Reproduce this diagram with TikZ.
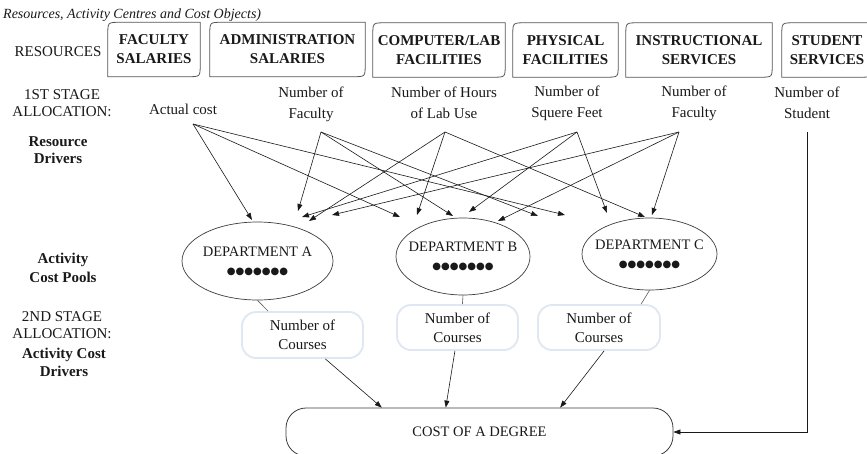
\documentclass[tikz,border=0pt]{standalone}
\usepackage{fontspec}
\setmainfont{Liberation Serif}
\newfontfamily\dejavu{DejaVu Sans}
\usetikzlibrary{arrows.meta,shapes.geometric,calc}
\definecolor{boxedge}{RGB}{85,85,85}
\definecolor{crsedge}{RGB}{222,231,242}
\definecolor{ink}{RGB}{25,25,25}
\newcommand\resframe[1]{\draw[resline] (#1.south west) -- ([yshift=-12pt]#1.north west) .. controls (#1.north west) .. ([xshift=12pt]#1.north west) -- (#1.north east) -- ([yshift=12pt]#1.south east) .. controls (#1.south east) .. ([xshift=-12pt]#1.south east) -- cycle;}
\newcommand\dotrow{{\dejavu\fontsize{10}{10}\selectfont ●●●●●●●}}
\begin{document}
\begin{tikzpicture}[x=1pt,y=-1pt,
  txt/.style={font=\fontsize{15}{21}\selectfont, align=center, inner sep=0pt, text=ink},
  side/.style={font=\fontsize{15}{17}\selectfont, align=center, inner sep=0pt, text=ink},
  bside/.style={font=\bfseries\fontsize{15}{17}\selectfont, align=center, inner sep=0pt, text=ink},
  res/.style={inner sep=0pt, minimum height=54pt, align=center, text=ink, font=\bfseries\fontsize{15}{19}\selectfont},
  resline/.style={draw=boxedge, line width=0.8pt},
  dept/.style={ellipse, draw=ink!85, line width=0.7pt, inner xsep=-25pt, inner ysep=-5pt, align=center, text=ink, font=\fontsize{14.5}{18}\selectfont},
  crs/.style={rectangle, rounded corners=14pt, draw=crsedge, line width=1.8pt, fill=white, inner sep=0pt, align=center, minimum width=121pt, text=ink, font=\fontsize{15}{19}\selectfont},
  costbox/.style={rectangle, rounded corners=20pt, draw=ink!85, line width=0.8pt, minimum width=387pt, minimum height=48pt, text=ink, font=\fontsize{14.5}{18}\selectfont},
  arr/.style={draw=ink, line width=0.6pt, -{Triangle[length=7pt,width=5pt]}},
  link/.style={draw=ink!70, line width=0.6pt}]
\useasboundingbox (0,0) rectangle (867,453);

% title
\node[anchor=west, inner sep=0pt, text=ink, font=\itshape\fontsize{14}{16}\selectfont] (title) at (3,15) {Resources, Activity Centres and Cost Objects)};

% left column
\node[side] (resl) at (58,52) {RESOURCES};
\node[side] (st1) at (62,103.5) {1ST STAGE\\ALLOCATION:};
\node[bside] (rdrv) at (58,150) {Resource\\Drivers};
\node[bside, font=\bfseries\fontsize{15}{19}\selectfont] (acp) at (63,267.5) {Activity\\Cost Pools};
\node[side] (st2) at (62,325) {2ND STAGE\\ALLOCATION:};
\node[bside, font=\bfseries\fontsize{15}{18}\selectfont] (acd) at (64,362) {Activity Cost\\Drivers};

% resources
\node[res, minimum width=92pt] (fac) at (154,49.5) {FACULTY\\SALARIES};
\node[res, minimum width=155pt] (adm) at (287.5,49.5) {ADMINISTRATION\\SALARIES};
\node[res, minimum width=132pt] (comp) at (439,50) {COMPUTER/LAB\\FACILITIES};
\node[res, minimum width=105pt] (phys) at (565.5,50) {PHYSICAL\\FACILITIES};
\node[res, minimum width=146pt] (instr) at (699,50) {INSTRUCTIONAL\\SERVICES};
\node[res, minimum width=90pt] (studs) at (827,50) {STUDENT\\SERVICES};
\foreach \n in {fac,adm,comp,phys,instr,studs} {\resframe{\n}}

% resource drivers
\node[txt] (actual) at (183,109) {Actual cost};
\node[txt] (fac1) at (311,104) {Number of\\Faculty};
\node[txt] (lab) at (444,103) {Number of Hours\\of Lab Use};
\node[txt] (sq) at (567,103) {Number of\\Squere Feet};
\node[txt] (fac2) at (694,103) {Number of\\Faculty};
\node[txt] (stud) at (807,103) {Number of\\Student};

\coordinate (sAct) at (193,124);
\coordinate (sFa1) at (321,132);
\coordinate (sLab) at (445,132);
\coordinate (sSq) at (577,132);
\coordinate (sFa2) at (679,132);
\coordinate (sStu) at (807,132);

% arrow targets
\coordinate (tA1) at (252,220); \coordinate (tA2) at (298,211); \coordinate (tA3) at (309,221);
\coordinate (tA4) at (302,217); \coordinate (tA5) at (332,215);
\coordinate (tB1) at (400,217); \coordinate (tB2) at (453,216); \coordinate (tB3) at (417,215);
\coordinate (tB4) at (469,212); \coordinate (tB5) at (498,221);
\coordinate (tC1) at (565,215); \coordinate (tC2) at (538,216); \coordinate (tC3) at (645,217);
\coordinate (tC4) at (607,213); \coordinate (tC5) at (652,215);

% departments
\node[dept, minimum width=151pt, minimum height=78pt] (depA) at (257.5,261) {DEPARTMENT A\\\dotrow};
\node[dept, minimum width=134pt, minimum height=77pt] (depB) at (463,256.5) {DEPARTMENT B\\\dotrow};
\node[dept, minimum width=135pt, minimum height=72pt] (depC) at (649.5,254) {DEPARTMENT C\\\dotrow};

% first stage arrows
\foreach \s/\i in {sAct/1,sFa1/2,sLab/3,sSq/4,sFa2/5} {
  \draw[arr] (\s) -- (tA\i);
  \draw[arr] (\s) -- (tB\i);
  \draw[arr] (\s) -- (tC\i);
}

% activity cost drivers
\node[crs, minimum height=46pt] (crsA) at (302.5,335) {Number of\\Courses};
\node[crs, minimum height=45pt] (crsB) at (457.5,327.5) {Number of\\Courses};
\node[crs, minimum width=122pt, minimum height=45pt] (crsC) at (599,327.5) {Number of\\Courses};

\draw[link] (depA.south) -- ($(crsA.north west)!0.22!(crsA.north east)$);
\draw[link] (depB.south) -- ($(crsB.north west)!0.54!(crsB.north east)$);
\draw[link] (depC.south) -- ($(crsC.north west)!0.84!(crsC.north east)$);

% cost object
\node[costbox] (cost) at (479.5,432) {COST OF A DEGREE};

\draw[arr] ($(crsA.south west)!0.686!(crsA.south east)$) -- ($(cost.north west)!0.248!(cost.north east)$);
\draw[arr] ($(crsB.south west)!0.479!(crsB.south east)$) -- ($(cost.north west)!0.413!(cost.north east)$);
\draw[arr] ($(crsC.south west)!0.541!(crsC.south east)$) -- ($(cost.north west)!0.708!(cost.north east)$);
\draw[arr] (sStu) |- (cost.east);
\end{tikzpicture}
\end{document}
